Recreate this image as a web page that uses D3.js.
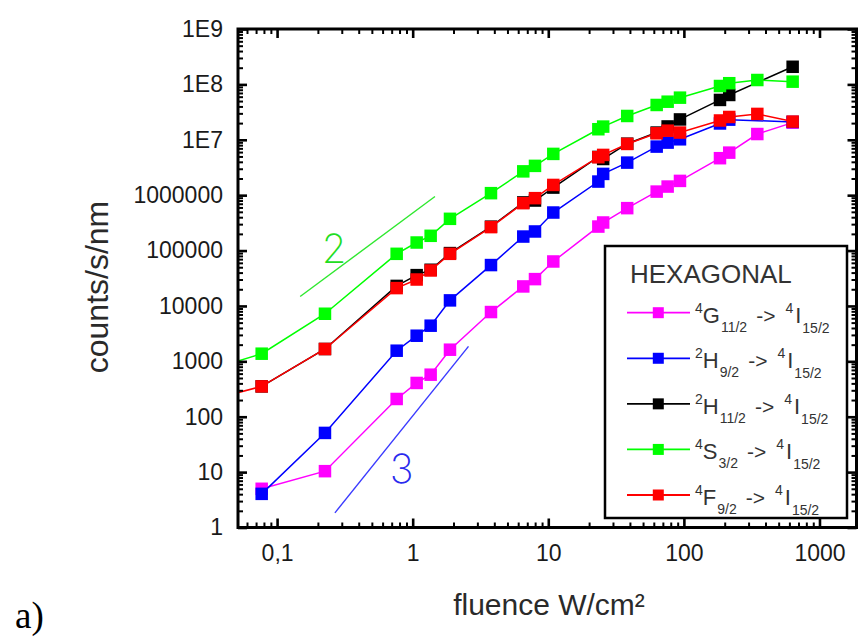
<!DOCTYPE html>
<html><head><meta charset="utf-8">
<script src="https://cdn.jsdelivr.net/npm/d3@7"></script>
<style>body{margin:0;background:#fff}</style>
</head><body>
<svg id="c" width="861" height="637" xmlns="http://www.w3.org/2000/svg"></svg>
<script>
// ---------------- data ----------------
const fluence = [0.03, 0.077, 0.2255, 0.762, 1.07, 1.357, 1.884, 3.78, 6.54, 7.98, 10.89, 23.4, 25.4, 38.2, 63.0, 75.9, 93.6, 184.6, 216, 348, 634];
const g11 = [null, 5, 10.4, 209, 407, 574, 1622, 7760, 22500, 30500, 63500, 271000, 321000, 583000, 1.16e6, 1.43e6, 1.81e6, 4.65e6, 5.86e6, 1.27e7, 2.04e7];
const h9 = [null, 4.05, 51, 1556, 2900, 4400, 12600, 54700, 179000, 221000, 486000, 1.76e6, 2.42e6, 3.87e6, 7.53e6, 8.89e6, 1.02e7, 1.97e7, 2.31e7, null, 2.1e7];
const h11 = [null, 353, 1670, 23000, 36000, 45000, 90000, 270000, 740000, 800000, 1.37e6, 4.9e6, 4.5e6, 8.5e6, 1.35e7, 1.74e7, 2.33e7, 5.24e7, 6.44e7, null, 2.08e8];
const s3 = [676, 1374, 7230, 87300, 139700, 184600, 374000, 1.087e6, 2.69e6, 3.38e6, 5.56e6, 1.55e7, 1.73e7, 2.69e7, 4.25e7, 4.87e7, 5.76e7, 9.35e7, 1.05e8, 1.2e8, 1.12e8];
const f9 = [192, 353, 1670, 21000, 30000, 43700, 87300, 265000, 717000, 883000, 1.53e6, 4.84e6, 5.33e6, 8.41e6, 1.31e7, 1.46e7, 1.35e7, 2.23e7, 2.58e7, 2.93e7, 2.13e7];

const seriesNames = ["4G11/2", "2H9/2", "2H11/2", "4S3/2", "4F9/2"];
const seriesColors = ["#ff00ff", "#0000ff", "#000000", "#00ff00", "#ff0000"];
const seriesValues = [g11, h9, h11, s3, f9];
// legend term symbols
const termMult = ["4", "2", "2", "4", "4"];
const termLetter = ["G", "H", "H", "S", "F"];
const termJ = ["11/2", "9/2", "11/2", "3/2", "9/2"];

// slope guide lines
const slope2X = [0.148, 1.46], slope2Y = [14800, 944000];
const slope3X = [0.267, 2.58], slope3Y = [1.84, 1862];

const xTickVals = [0.1, 1, 10, 100, 1000];
const xTickLabels = ["0,1", "1", "10", "100", "1000"];
const yTickVals = [1, 10, 100, 1000, 1e4, 1e5, 1e6, 1e7, 1e8, 1e9];
const yTickLabels = ["1", "10", "100", "1000", "10000", "100000", "1000000", "1E7", "1E8", "1E9"];

// ---------------- layout ----------------
const L = 238, R = 856.5, T = 29, B = 527.5;
const svg = d3.select("#c");
const x = d3.scaleLog().domain([0.0515, 1875]).range([L, R]);
const y = d3.scaleLog().domain([1, 1e9]).range([B, T]);

svg.append("defs").append("clipPath").attr("id", "clip")
  .append("rect").attr("x", L).attr("y", T).attr("width", R - L).attr("height", B - T);

const plot = svg.append("g").attr("clip-path", "url(#clip)");

// slope guides
const gl = d3.line().x(d => x(d[0])).y(d => y(d[1]));
plot.append("path").attr("d", gl(slope2X.map((v, i) => [v, slope2Y[i]])))
  .attr("stroke", "#2fe82f").attr("stroke-width", 1.4).attr("fill", "none");
plot.append("path").attr("d", gl(slope3X.map((v, i) => [v, slope3Y[i]])))
  .attr("stroke", "#3a3aff").attr("stroke-width", 1.4).attr("fill", "none");

// series
const ms = 12.5;
seriesValues.forEach((vals, si) => {
  const pts = fluence.map((f, i) => [f, vals[i]]).filter(d => d[1] != null);
  plot.append("path").attr("d", gl(pts))
    .attr("stroke", seriesColors[si]).attr("stroke-width", 1.5).attr("fill", "none");
  plot.selectAll(null).data(pts).enter().append("rect")
    .attr("x", d => x(d[0]) - ms / 2).attr("y", d => y(d[1]) - ms / 2)
    .attr("width", ms).attr("height", ms).attr("fill", seriesColors[si]);
});

// annotations
svg.append("text").attr("x", x(0.263)).attr("y", y(1.11e5)).attr("text-anchor", "middle")
  .attr("dominant-baseline", "central").attr("font-family", "Inter, 'Liberation Sans', sans-serif")
  .attr("font-weight", 200).attr("font-size", 40).attr("fill", "#22dd22").text("2");
svg.append("text").attr("x", x(0.83)).attr("y", y(11.7)).attr("text-anchor", "middle")
  .attr("dominant-baseline", "central").attr("font-family", "Inter, 'Liberation Sans', sans-serif")
  .attr("font-weight", 200).attr("font-size", 40).attr("fill", "#2a2aee").text("3");

// ---------------- axes ----------------
const font = "'Liberation Sans', Arial, sans-serif";
const xMinor = [], yMinor = [];
for (let e = -2; e <= 3; e++) for (let m = 2; m <= 9; m++) {
  const v = m * Math.pow(10, e);
  if (v > 0.0515 && v < 1875) xMinor.push(v);
}
for (let e = 0; e < 9; e++) for (let m = 2; m <= 9; m++) yMinor.push(m * Math.pow(10, e));

function styleAxis(g, w) {
  g.select(".domain").remove();
  g.selectAll(".tick line").attr("stroke", "#000").attr("stroke-width", w);
  g.selectAll("text").attr("font-family", font).attr("font-size", 23).attr("fill", "#1a1a1a");
}
// bottom
svg.append("g").attr("transform", `translate(0,${B})`)
  .call(d3.axisBottom(x).tickValues(xMinor).tickSize(-5).tickFormat(""))
  .call(g => styleAxis(g, 2));
svg.append("g").attr("transform", `translate(0,${B})`)
  .call(d3.axisBottom(x).tickValues(xTickVals).tickSize(-9).tickPadding(17)
    .tickFormat((d, i) => xTickLabels[i]))
  .call(g => styleAxis(g, 2.6));
// top
svg.append("g").attr("transform", `translate(0,${T})`)
  .call(d3.axisTop(x).tickValues(xMinor).tickSize(-5).tickFormat(""))
  .call(g => styleAxis(g, 2));
svg.append("g").attr("transform", `translate(0,${T})`)
  .call(d3.axisTop(x).tickValues(xTickVals).tickSize(-9).tickFormat(""))
  .call(g => styleAxis(g, 2.6));
// left
svg.append("g").attr("transform", `translate(${L},0)`)
  .call(d3.axisLeft(y).tickValues(yMinor).tickSize(-5).tickFormat(""))
  .call(g => styleAxis(g, 2));
svg.append("g").attr("transform", `translate(${L},0)`)
  .call(d3.axisLeft(y).tickValues(yTickVals).tickSize(-9).tickPadding(15)
    .tickFormat((d, i) => yTickLabels[i]))
  .call(g => styleAxis(g, 2.6));
// right
svg.append("g").attr("transform", `translate(${R},0)`)
  .call(d3.axisRight(y).tickValues(yMinor).tickSize(-5).tickFormat(""))
  .call(g => styleAxis(g, 2));
svg.append("g").attr("transform", `translate(${R},0)`)
  .call(d3.axisRight(y).tickValues(yTickVals).tickSize(-9).tickFormat(""))
  .call(g => styleAxis(g, 2.6));

svg.append("rect").attr("x", L).attr("y", T).attr("width", R - L).attr("height", B - T)
  .attr("fill", "none").attr("stroke", "#000").attr("stroke-width", 3);

// titles
svg.append("text").attr("x", 549).attr("y", 615).attr("text-anchor", "middle")
  .attr("font-family", font).attr("font-size", 30).attr("fill", "#2a2a2a").text("fluence W/cm²");
svg.append("text").attr("transform", "translate(108,287) rotate(-90)").attr("text-anchor", "middle")
  .attr("font-family", font).attr("font-size", 32).attr("fill", "#2a2a2a").text("counts/s/nm");
svg.append("text").attr("x", 15).attr("y", 628)
  .attr("font-family", "'Liberation Serif', 'Times New Roman', serif").attr("font-size", 37)
  .attr("fill", "#000").text("a)");

// ---------------- legend ----------------
const lg = svg.append("g");
lg.append("rect").attr("x", 605).attr("y", 246).attr("width", 242).attr("height", 272)
  .attr("fill", "#fff").attr("stroke", "#000").attr("stroke-width", 2.5);
lg.append("text").attr("x", 630).attr("y", 283).attr("font-family", font).attr("font-size", 26)
  .attr("fill", "#333").text("HEXAGONAL");
const rowY = d3.scaleLinear().domain([0, 4]).range([312.7, 495]);
seriesNames.forEach((n, i) => {
  const yy = rowY(i);
  lg.append("line").attr("x1", 627).attr("x2", 690).attr("y1", yy).attr("y2", yy)
    .attr("stroke", seriesColors[i]).attr("stroke-width", 1.8);
  lg.append("rect").attr("x", 658.3 - 5.5).attr("y", yy - 5.5).attr("width", 11).attr("height", 11)
    .attr("fill", seriesColors[i]);
  const t = lg.append("text").attr("x", 695).attr("y", yy + 10).attr("font-family", font).attr("fill", "#333");
  t.append("tspan").attr("font-size", 14).attr("dy", -10).text(termMult[i]);
  t.append("tspan").attr("font-size", 22).attr("dy", 10).text(termLetter[i]);
  t.append("tspan").attr("font-size", 14).attr("dy", 9).attr("dx", 1).text(termJ[i]);
  t.append("tspan").attr("font-size", 21).attr("dy", -9).attr("dx", 9).text("->");
  t.append("tspan").attr("font-size", 14).attr("dy", -10).attr("dx", 10).text("4");
  t.append("tspan").attr("font-size", 22).attr("dy", 10).attr("dx", 2).text("I");
  t.append("tspan").attr("font-size", 14).attr("dy", 10).attr("dx", 1).text("15/2");
});
</script>
</body></html>
